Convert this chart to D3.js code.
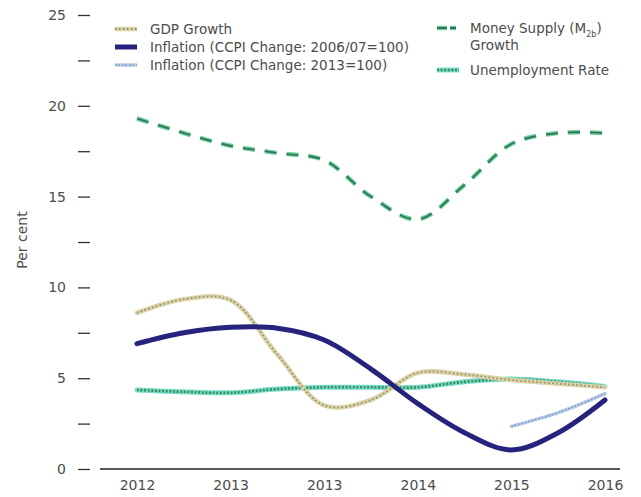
<!DOCTYPE html>
<html>
<head>
<meta charset="UTF-8">
<title></title>
<style>
  body { margin: 0; background: #fff; }
  text { font-family: "DejaVu Sans", sans-serif; fill: #4d4d4d; }
</style>
</head>
<body>
<div id="chart"></div>
<script src="https://d3js.org/d3.v7.min.js"></script>
<script>
// x positions (index on the year axis, half steps)
var xPos = [0, 0.5, 1, 1.5, 2, 2.5, 3, 3.5, 4, 4.5, 5];
var yearLabels = ["2012", "2013", "2013", "2014", "2015", "2016"];

var gdpGrowth    = [8.6, 9.35, 9.3, 6.3, 3.5, 3.8, 5.3, 5.2, 4.9, 4.7, 4.5];
var inflation0607 = [6.9, 7.5, 7.8, 7.75, 7.1, 5.5, 3.6, 2.0, 1.05, 2.0, 3.8];
var inflation2013 = [null, null, null, null, null, null, null, null, 2.35, 3.1, 4.15];
var moneySupply  = [19.3, 18.5, 17.8, 17.4, 17.0, 15.0, 13.75, 15.65, 17.9, 18.5, 18.5];
var unemployment = [4.35, 4.25, 4.2, 4.4, 4.5, 4.5, 4.5, 4.8, 4.95, 4.8, 4.55];

var yTicks = [0, 2.5, 5, 7.5, 10, 12.5, 15, 17.5, 20, 22.5, 25];

var width = 641, height = 497;
var svg = d3.select("#chart").append("svg")
  .attr("width", width).attr("height", height);

var x = d3.scaleLinear().domain([0, 5]).range([137, 605]);
var y = d3.scaleLinear().domain([0, 25]).range([469, 15]);

// y axis: only short dashes, labels at whole fives
var yAxis = d3.axisLeft(y)
  .tickValues(yTicks)
  .tickSize(12)
  .tickPadding(12)
  .tickFormat(function(d) { return d % 5 === 0 ? d : ""; });
var gy = svg.append("g").attr("transform", "translate(90,0)").call(yAxis);
gy.select(".domain").remove();
gy.selectAll(".tick line").attr("stroke", "#333").attr("stroke-width", 1.3);
gy.selectAll("text").style("font-size", "14px").style("fill", "#4d4d4d").attr("font-family", "DejaVu Sans");

// x axis
var xAxis = d3.axisBottom(x)
  .tickValues(d3.range(yearLabels.length))
  .tickSize(0)
  .tickPadding(11)
  .tickFormat(function(d, i) { return yearLabels[i]; });
var gx = svg.append("g").attr("transform", "translate(0,469)").call(xAxis);
gx.select(".domain").remove();
gx.selectAll("text").style("font-size", "14px").style("fill", "#4d4d4d").attr("font-family", "DejaVu Sans");
svg.append("line")
  .attr("x1", 100).attr("x2", 620)
  .attr("y1", y(0)).attr("y2", y(0))
  .attr("stroke", "#222").attr("stroke-width", 1.5);

// axis title
svg.append("text")
  .attr("transform", "translate(27," + 240 + ") rotate(-90)")
  .attr("text-anchor", "middle")
  .style("font-size", "14px")
  .text("Per cent");

var line = d3.line()
  .defined(function(d) { return d[1] !== null; })
  .x(function(d) { return x(d[0]); })
  .y(function(d) { return y(d[1]); })
  .curve(d3.curveCatmullRom.alpha(0.5));

function pts(vals) {
  return xPos.map(function(v, i) { return [v, vals[i]]; });
}

// each series drawn as a couple of stroke layers to mimic the textured lines
var series = [
  { name: "Unemployment", data: unemployment, layers: [
      { color: "#78dccb", w: 5 },
      { color: "#3b8c5e", w: 2.6, dash: "2,1.6" }] },
  { name: "GDP", data: gdpGrowth, layers: [
      { color: "#dcd3a4", w: 4.5 },
      { color: "#8f8a7a", w: 1.8, dash: "1.5,2.5" }] },
  { name: "Money", data: moneySupply, layers: [
      { color: "#6fd0a4", w: 4.5, dash: "12,10" },
      { color: "#2f7650", w: 1.8, dash: "12,10" }] },
  { name: "Infl0607", data: inflation0607, layers: [
      { color: "#25237c", w: 5 }] },
  { name: "Infl2013", data: inflation2013, layers: [
      { color: "#b6cbe6", w: 3.5 },
      { color: "#7c98bd", w: 1.5, dash: "1.5,2" }] }
];

series.forEach(function(s) {
  s.layers.forEach(function(l) {
    svg.append("path")
      .datum(pts(s.data))
      .attr("d", line)
      .attr("fill", "none")
      .attr("stroke", l.color)
      .attr("stroke-width", l.w)
      .attr("stroke-linecap", l.dash ? "butt" : "round")
      .attr("stroke-dasharray", l.dash || null);
  });
});

// legend
var legendItems = [
  { lines: ["GDP Growth"], x: 115, y: 29, s: series[1] },
  { lines: ["Inflation (CCPI Change: 2006/07=100)"], x: 115, y: 47, s: series[3] },
  { lines: ["Inflation (CCPI Change: 2013=100)"], x: 115, y: 65, s: series[4] },
  { lines: ["Money Supply (M", "Growth"], x: 437, y: 28, s: series[2], sub: true },
  { lines: ["Unemployment Rate"], x: 437, y: 70, s: series[0] }
];

legendItems.forEach(function(d) {
  var g = svg.append("g").attr("transform", "translate(" + d.x + "," + d.y + ")");
  d.s.layers.forEach(function(l) {
    g.append("line")
      .attr("x1", 0).attr("x2", 22)
      .attr("stroke", l.color)
      .attr("stroke-width", l.w)
      .attr("stroke-dasharray", l.dash && l.dash !== "12,10" ? l.dash : (l.dash ? "10,3,6" : null));
  });
  var t = g.append("text")
    .attr("x", d.x < 300 ? 35 : 33)
    .attr("y", 5)
    .style("font-size", "13.5px");
  t.append("tspan").text(d.lines[0]);
  if (d.sub) {
    t.append("tspan").attr("dy", 4).style("font-size", "8px").text("2b");
    t.append("tspan").attr("dy", -4).text(")");
    g.append("text")
      .attr("x", 33).attr("y", 22)
      .style("font-size", "13.5px")
      .text(d.lines[1]);
  }
});
</script>
</body>
</html>
